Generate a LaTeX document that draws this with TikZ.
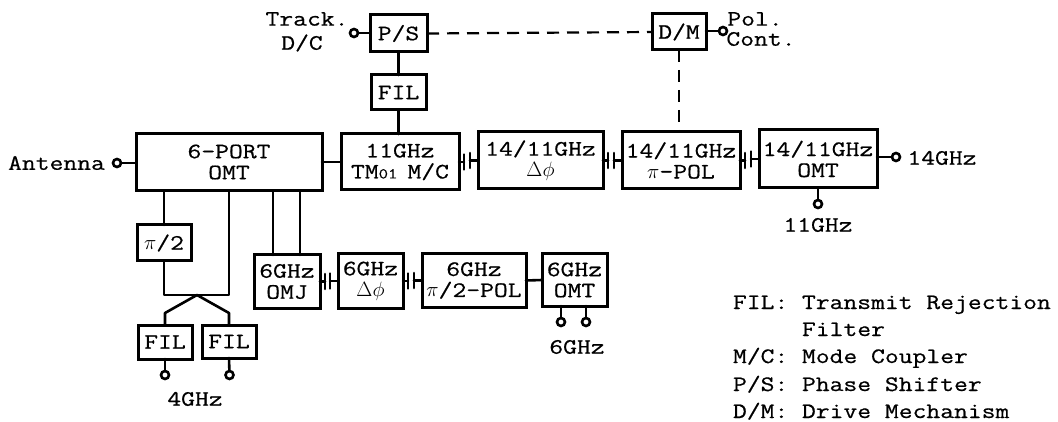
\documentclass[tikz,border=0pt]{standalone}
\usepackage{fontspec}
\setmonofont[FakeStretch=1.22,FakeBold=0.6]{Latin Modern Mono}
\usetikzlibrary{calc}
\tikzset{
  wire/.style={line width=2.6pt,line cap=round,line join=round},
  ctrl/.style={line width=2.2pt,dash pattern=on 12pt off 8pt},
  blk/.style={draw,line width=3pt,fill=white,inner sep=0pt,outer sep=0pt,align=center,font=\dgfont},
  lbl/.style={inner sep=0pt,outer sep=0pt,align=center,font=\dgfont},
  leg/.style={inner sep=0pt,outer sep=0pt,anchor=base west,font=\dgfont},
  term/.style={circle,draw,line width=2.6pt,fill=white,minimum size=8pt,inner sep=0pt,outer sep=0pt},
}
\newcommand{\dgfont}{\ttfamily\fontsize{22}{21}\selectfont}
\newcommand{\flangelink}[2]{%
  \draw[wire] (#1.east) -- ++(5,0) coordinate (fa);
  \draw[wire] (#2.west) -- ++(-8,0) coordinate (fb);
  \draw[wire] ($(fa)+(0,-7.5)$) -- ($(fa)+(0,7.5)$);
  \draw[wire] ($(fb)+(0,-7.5)$) -- ($(fb)+(0,7.5)$);
}
\begin{document}
\begin{tikzpicture}[x=1pt,y=-1pt]
\useasboundingbox (0,0) rectangle (1058,422);
% upper chain
\node[blk,minimum width=57pt,minimum height=37pt] (ps) at (398.5,33.5) {P/S};
\node[blk,minimum width=55pt,minimum height=35pt] (filt) at (398.5,92.5) {FIL};
\node[blk,minimum width=186pt,minimum height=57pt] (omtsix) at (229,162) {6-PORT\\OMT};
\node[blk,minimum width=118pt,minimum height=56pt] (tm) at (400,162) {11GHz\\TM{\fontsize{15}{15}\selectfont 01}\hspace{10pt}M/C};
\node[blk,minimum width=125pt,minimum height=57pt] (dphi) at (540.5,160.5) {14/11GHz\\$\Delta\phi$};
\node[blk,minimum width=118pt,minimum height=57pt] (pipol) at (681,160.5) {14/11GHz\\$\pi$-POL};
\node[blk,minimum width=118pt,minimum height=58pt] (omtk) at (818,159) {14/11GHz\\OMT};
\node[blk,minimum width=54pt,minimum height=36pt] (dm) at (679,32) {D/M};
% lower chain
\node[blk,minimum width=54pt,minimum height=36pt] (pitwo) at (164,243) {$\pi$/2};
\node[blk,minimum width=54pt,minimum height=34pt] (fila) at (165,342) {FIL};
\node[blk,minimum width=54pt,minimum height=33pt] (filb) at (229,341.5) {FIL};
\node[blk,minimum width=66pt,minimum height=53pt] (omj) at (287,281.5) {6GHz\\OMJ};
\node[blk,minimum width=65pt,minimum height=54pt] (dpsix) at (370.5,281) {6GHz\\$\Delta\phi$};
\node[blk,minimum width=104pt,minimum height=53pt] (polsix) at (474,280.5) {6GHz\\$\pi$/2-POL};
\node[blk,minimum width=65pt,minimum height=52pt] (omtg) at (574.5,280) {6GHz\\OMT};
% terminals
\node[term] (tant) at (117,163) {};
\node[term] (ttrack) at (354,33) {};
\node[term] (tpol) at (723,31) {};
\node[term] (tku) at (896,157) {};
\node[term] (tx) at (818,204) {};
\node[term] (tfa) at (165,375) {};
\node[term] (tfb) at (229.5,375) {};
\node[term] (tga) at (561,322) {};
\node[term] (tgb) at (586,322) {};
% connectors
\draw[wire] (tant) -- (omtsix.west |- tant);
\draw[wire] (ttrack) -- (ps.west |- ttrack);
\draw[wire] (ps) -- (filt);
\draw[wire] (filt.south) -- (filt.south |- tm.north);
\draw[wire] (omtsix.east) -- (tm.west);
\flangelink{tm}{dphi}
\flangelink{dphi}{pipol}
\flangelink{pipol}{omtk}
\draw[wire] (omtk.east |- tku) -- (tku);
\draw[wire] (tx.north |- omtk.south) -- (tx);
\draw[wire] (dm.east |- tpol) -- (tpol);
\draw[ctrl] (ps.east) -- (dm.west);
\draw[ctrl] (dm.south) -- (pipol.north -| dm.south);
% 6-port to lower chain
\coordinate (bend) at (229,295);
\coordinate (corner) at (164,295);
\coordinate (split) at (197,295);
\coordinate (leftdrop) at (165,313);
\coordinate (rightdrop) at (229,313);
\draw[wire] (pitwo.north) -- (pitwo.north |- omtsix.south);
\draw[wire] (pitwo.south) -- (corner) -- (bend) -- (bend |- omtsix.south);
\draw[wire] (split) -- (leftdrop) -- (fila.north);
\draw[wire] (split) -- (rightdrop) -- (filb.north);
\draw[wire] (fila.south) -- (tfa);
\draw[wire] (filb.south) -- (tfb);
\coordinate (omja) at (273,255);
\coordinate (omjb) at (300,255);
\draw[wire] (omja) -- (omja |- omtsix.south);
\draw[wire] (omjb) -- (omjb |- omtsix.south);
\flangelink{omj}{dpsix}
\flangelink{dpsix}{polsix}
\draw[wire] (polsix.east) -- (omtg.west);
\draw[wire] (tga |- omtg.south) -- (tga);
\draw[wire] (tgb |- omtg.south) -- (tgb);
% labels
\node[lbl] (lant) at (56.5,163) {Antenna};
\node[lbl] (ltrack) at (307,19) {Track.};
\node[lbl] (ldc) at (302,43) {D/C};
\node[lbl] (lpol) at (755,19) {Pol.};
\node[lbl] (lcont) at (761,39) {Cont.};
\node[lbl] (lku) at (942,158) {14GHz};
\node[lbl] (lx) at (818,225) {11GHz};
\node[lbl] (lfour) at (195,399) {4GHz};
\node[lbl] (lsix) at (577,347) {6GHz};
% legend
\node[leg] (la) at (733,309) {FIL:};
\node[leg] (lb) at (802,309) {Transmit Rejection};
\node[leg] (lc) at (802,336) {Filter};
\node[leg] (ld) at (733,363) {M/C:};
\node[leg] (le) at (802,363) {Mode Coupler};
\node[leg] (lf) at (733,391) {P/S:};
\node[leg] (lg) at (802,391) {Phase Shifter};
\node[leg] (lh) at (733,418) {D/M:};
\node[leg] (li) at (802,418) {Drive Mechanism};
\end{tikzpicture}
\end{document}
